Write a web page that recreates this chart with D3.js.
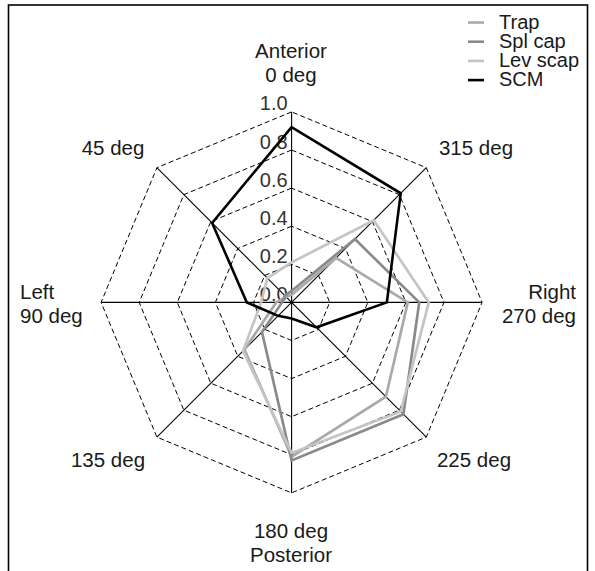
<!DOCTYPE html>
<html>
<head>
<meta charset="utf-8">
<script src="https://cdn.jsdelivr.net/npm/d3@7"></script>
<style>
  html, body { margin: 0; padding: 0; background: #fff; }
  svg { display: block; }
  text { font-family: "Liberation Sans", Arial, Helvetica, sans-serif; fill: #1a1a1a; }
</style>
</head>
<body>
<svg id="chart" width="595" height="571"></svg>
<script>
// Directions, counter-clockwise from anterior (top)
const directions = ["0 deg", "45 deg", "90 deg", "135 deg", "180 deg", "225 deg", "270 deg", "315 deg"];
const ringTicks = [0.0, 0.2, 0.4, 0.6, 0.8, 1.0];
const seriesNames = ["Trap", "Spl cap", "Lev scap", "SCM"];
const seriesColors = ["#a9a9a9", "#8a8a8a", "#c4c4c4", "#000000"];

// Normalised activation per direction (0, 45, 90, ... 315 deg)
const trapValues    = [0.04, 0.04, 0.08, 0.35, 0.81, 0.70, 0.61, 0.33];
const splCapValues  = [0.06, 0.05, 0.05, 0.22, 0.83, 0.83, 0.67, 0.47];
const levScapValues = [0.21, 0.18, 0.16, 0.36, 0.79, 0.81, 0.72, 0.61];
const scmValues     = [0.92, 0.59, 0.235, 0.10, 0.085, 0.185, 0.50, 0.81];

const allSeries = [trapValues, splCapValues, levScapValues, scmValues];

const svg = d3.select("#chart");
const cx = 291.6, cy = 302.4, R = 190.5;

// frame
svg.append("rect")
  .attr("x", 8.5).attr("y", 5).attr("width", 579).attr("height", 620)
  .attr("fill", "none").attr("stroke", "#000").attr("stroke-width", 1.6);

const r = d3.scaleLinear().domain([0, 1]).range([0, R]);
const step = 2 * Math.PI / directions.length;
const angle = i => -i * step;  // counter-clockwise

const g = svg.append("g").attr("transform", `translate(${cx},${cy})`);

const radial = d3.lineRadial()
  .angle((d, i) => angle(i))
  .radius(d => r(d))
  .curve(d3.curveLinearClosed);

// dashed octagonal rings
g.selectAll("path.ring")
  .data(ringTicks.filter(t => t > 0))
  .join("path")
  .attr("class", "ring")
  .attr("d", t => radial(directions.map(() => t)))
  .attr("fill", "none")
  .attr("stroke", "#000")
  .attr("stroke-width", 1)
  .attr("stroke-dasharray", "5,3");

// spokes
g.selectAll("line.spoke")
  .data(directions)
  .join("line")
  .attr("class", "spoke")
  .attr("x1", 0).attr("y1", 0)
  .attr("x2", (d, i) => r(1) * Math.sin(angle(i)))
  .attr("y2", (d, i) => -r(1) * Math.cos(angle(i)))
  .attr("stroke", "#000")
  .attr("stroke-width", 1.1);

// tick labels along the anterior spoke
g.selectAll("text.tick")
  .data(ringTicks)
  .join("text")
  .attr("class", "tick")
  .attr("x", -4)
  .attr("y", t => -r(t) - 1.5)
  .attr("text-anchor", "end")
  .attr("font-size", 20)
  .style("fill", "#333")
  .text(t => t.toFixed(1));

// series polygons
g.selectAll("path.series")
  .data(allSeries)
  .join("path")
  .attr("class", "series")
  .attr("d", d => radial(d))
  .attr("fill", "none")
  .attr("stroke", (d, i) => seriesColors[i])
  .attr("stroke-width", (d, i) => i === 3 ? 2.6 : 2.7)
  .attr("stroke-linejoin", "miter");

// direction labels
const labels = [
  { lines: ["Anterior", "0 deg"], x: 291, y: 58, anchor: "middle" },
  { lines: ["45 deg"], x: 113, y: 155, anchor: "middle" },
  { lines: ["Left", "90 deg"], x: 20, y: 299, anchor: "start" },
  { lines: ["135 deg"], x: 108, y: 467, anchor: "middle" },
  { lines: ["180 deg", "Posterior"], x: 291, y: 538, anchor: "middle" },
  { lines: ["225 deg"], x: 474, y: 467, anchor: "middle" },
  { lines: ["Right", "270 deg"], x: 576, y: 299, anchor: "end" },
  { lines: ["315 deg"], x: 476, y: 155, anchor: "middle" }
];
labels.forEach(l => {
  const t = svg.append("text")
    .attr("x", l.x).attr("y", l.y)
    .attr("text-anchor", l.anchor)
    .attr("font-size", 20.5);
  l.lines.forEach((s, k) => {
    t.append("tspan").attr("x", l.x).attr("dy", k === 0 ? 0 : 23.5).text(s);
  });
});

// legend
const legend = svg.append("g").attr("transform", "translate(468,0)");
const rows = legend.selectAll("g.row")
  .data(seriesNames)
  .join("g")
  .attr("class", "row")
  .attr("transform", (d, i) => `translate(0,${28.5 + i * 19.2})`);
rows.append("line")
  .attr("x1", 0).attr("x2", 16)
  .attr("y1", -6).attr("y2", -6)
  .attr("stroke", (d, i) => seriesColors[i])
  .attr("stroke-width", 2.6);
rows.append("text")
  .attr("x", 31).attr("y", 0)
  .attr("font-size", 20)
  .text(d => d);
</script>
</body>
</html>
